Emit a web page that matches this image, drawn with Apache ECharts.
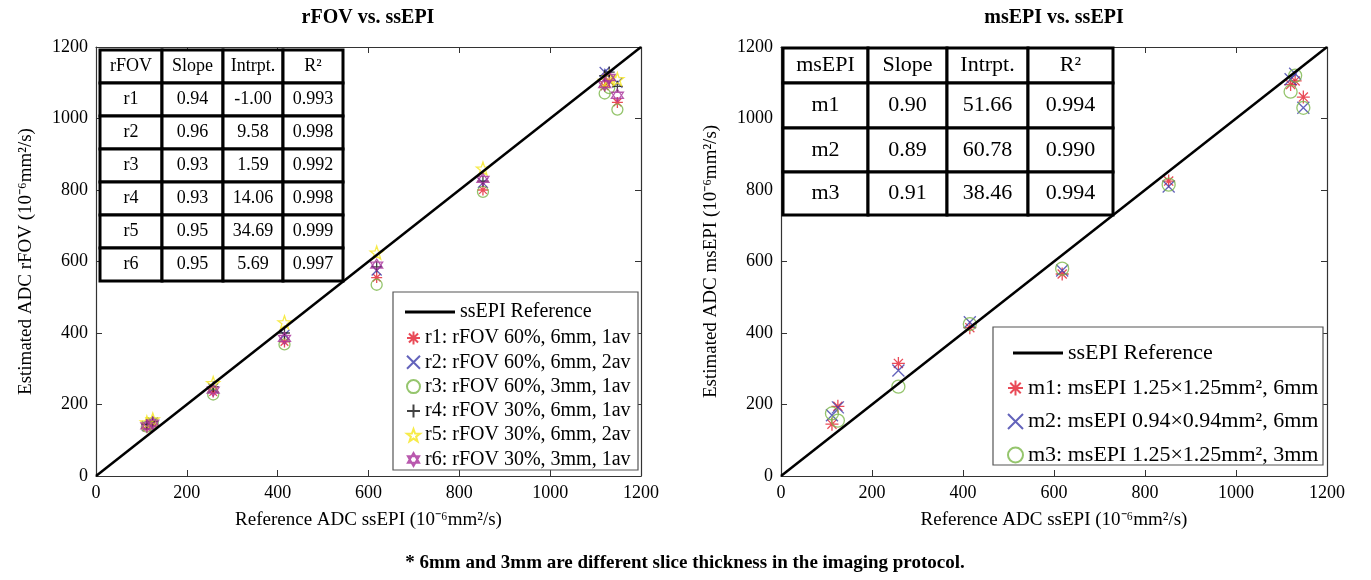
<!DOCTYPE html>
<html>
<head>
<meta charset="utf-8">
<script src="https://cdn.jsdelivr.net/npm/echarts@6/dist/echarts.min.js"></script>
<style>
  html, body { margin: 0; padding: 0; background: #fff; }
  #chart { width: 1371px; height: 580px; }
</style>
</head>
<body>
<div id="chart"></div>
<script>
// ssEPI 参考值（横轴）
var xRef = [112, 125, 258, 415, 618, 852, 1120, 1130, 1148];

// 左图 rFOV
var r1 = [135, 145, 235, 375, 555, 800, 1090, 1105, 1045];
var r2 = [140, 150, 245, 395, 575, 820, 1130, 1125, 1100];
var r3 = [138, 148, 228, 368, 535, 795, 1070, 1085, 1025];
var r4 = [145, 152, 250, 400, 585, 825, 1120, 1130, 1090];
var r5 = [150, 158, 260, 430, 625, 860, 1105, 1115, 1110];
var r6 = [140, 148, 240, 385, 590, 830, 1095, 1115, 1065];

// 右图 msEPI
var m1 = [145, 195, 315, 415, 565, 825, 1095, 1105, 1060];
var m2 = [170, 192, 295, 430, 575, 810, 1110, 1125, 1030];
var m3 = [175, 155, 250, 425, 580, 815, 1075, 1120, 1030];

// 参考线
var refLine = [[0, 0], [1200, 1200]];

var rNames = ['r1: rFOV 60%, 6mm, 1av', 'r2: rFOV 60%, 6mm, 2av', 'r3: rFOV 60%, 3mm, 1av',
  'r4: rFOV 30%, 6mm, 1av', 'r5: rFOV 30%, 6mm, 2av', 'r6: rFOV 30%, 3mm, 1av'];
var mNames = ['m1: msEPI 1.25×1.25mm², 6mm', 'm2: msEPI 0.94×0.94mm², 6mm', 'm3: msEPI 1.25×1.25mm², 3mm'];

// 表格
var rfovHead = ['rFOV', 'Slope', 'Intrpt.', 'R²'];
var rfovRows = [
  ['r1', '0.94', '-1.00', '0.993'],
  ['r2', '0.96', '9.58', '0.998'],
  ['r3', '0.93', '1.59', '0.992'],
  ['r4', '0.93', '14.06', '0.998'],
  ['r5', '0.95', '34.69', '0.999'],
  ['r6', '0.95', '5.69', '0.997']
];
var msHead = ['msEPI', 'Slope', 'Intrpt.', 'R²'];
var msRows = [
  ['m1', '0.90', '51.66', '0.994'],
  ['m2', '0.89', '60.78', '0.990'],
  ['m3', '0.91', '38.46', '0.994']
];

var FONT = 'Liberation Serif';
var unit = ' (10⁻⁶mm²/s)';

// 标记形状
function starPath() {
  var s = 'path://';
  for (var i = 0; i < 10; i++) {
    var r = i % 2 === 0 ? 10 : 4;
    var a = -Math.PI / 2 + i * Math.PI / 5;
    s += (i === 0 ? 'M' : 'L') + (10 + r * Math.cos(a)).toFixed(2) + ',' + (10 + r * Math.sin(a)).toFixed(2);
  }
  return s + 'Z';
}
var SYM_AST = 'path://M10,0L10,20M0,10L20,10M3,3L17,17M3,17L17,3';
var SYM_X = 'path://M0,0L20,20M0,20L20,0';
var SYM_PLUS = 'path://M10,0L10,20M0,10L20,10';
var SYM_STAR = starPath();
var SYM_HEX = 'path://M10,0L18.66,15L1.34,15ZM10,20L1.34,5L18.66,5Z';

var RED = '#e41e2e', BLUE = '#3c3caa', GREEN = '#7ab648', BLACK = '#111', YELLOW = '#f5e61c', PURPLE = '#a8309a';

function pts(ys) {
  return xRef.map(function (x, i) { return [x, ys[i]]; });
}

function scatter(name, gi, ys, sym, color, size) {
  return {
    name: name,
    type: 'scatter',
    xAxisIndex: gi * 2,
    yAxisIndex: gi * 2,
    symbol: sym,
    symbolSize: size,
    itemStyle: { color: 'rgba(0,0,0,0)', borderColor: color, borderWidth: 1.3 },
    emphasis: { disabled: true },
    data: pts(ys)
  };
}

function refSeries(gi) {
  return {
    name: 'ssEPI Reference',
    type: 'line',
    xAxisIndex: gi * 2,
    yAxisIndex: gi * 2,
    symbol: 'none',
    itemStyle: { color: '#000' },
    lineStyle: { color: '#000', width: 2.5 },
    data: refLine
  };
}

var tickFmt = function (v) { return String(v); };

function mainX(gi, name) {
  return {
    gridIndex: gi, type: 'value', min: 0, max: 1200, interval: 200,
    axisLine: { show: true, onZero: false, lineStyle: { color: '#333', width: 1.2 } },
    axisTick: { inside: true, length: 6, lineStyle: { color: '#333' } },
    axisLabel: { color: '#000', fontSize: 18, fontFamily: FONT, margin: 8, formatter: tickFmt },
    splitLine: { show: false },
    name: name, nameLocation: 'middle', nameGap: 35,
    nameTextStyle: { color: '#000', fontSize: 19, fontFamily: FONT }
  };
}
function topX(gi) {
  return {
    gridIndex: gi, type: 'value', min: 0, max: 1200, interval: 200, position: 'top',
    axisLine: { show: true, onZero: false, lineStyle: { color: '#333', width: 1.2 } },
    axisTick: { inside: true, length: 6, lineStyle: { color: '#333' } },
    axisLabel: { show: false }, splitLine: { show: false }
  };
}
function mainY(gi, name) {
  return {
    gridIndex: gi, type: 'value', min: 0, max: 1200, interval: 200,
    axisLine: { show: true, onZero: false, lineStyle: { color: '#333', width: 1.2 } },
    axisTick: { inside: true, length: 6, lineStyle: { color: '#333' } },
    axisLabel: { color: '#000', fontSize: 18, fontFamily: FONT, margin: 8, formatter: tickFmt },
    splitLine: { show: false },
    name: name, nameLocation: 'middle', nameGap: 60,
    nameTextStyle: { color: '#000', fontSize: 19, fontFamily: FONT }
  };
}
function rightY(gi) {
  return {
    gridIndex: gi, type: 'value', min: 0, max: 1200, interval: 200, position: 'right',
    axisLine: { show: true, onZero: false, lineStyle: { color: '#333', width: 1.2 } },
    axisTick: { inside: true, length: 6, lineStyle: { color: '#333' } },
    axisLabel: { show: false }, splitLine: { show: false }
  };
}

// 表格 graphic
function table(head, rows, cols, rowsY, fontSize) {
  var els = [];
  var all = [head].concat(rows);
  all.forEach(function (row, ri) {
    row.forEach(function (txt, ci) {
      var x0 = cols[ci], x1 = cols[ci + 1], y0 = rowsY[ri], y1 = rowsY[ri + 1];
      els.push({
        type: 'rect', z: 20,
        shape: { x: x0, y: y0, width: x1 - x0, height: y1 - y0 },
        style: { fill: '#fff', stroke: '#000', lineWidth: 3 }
      });
      els.push({
        type: 'text', z: 21,
        x: (x0 + x1) / 2, y: (y0 + y1) / 2,
        style: { text: txt, align: 'center', verticalAlign: 'middle', fill: '#000',
          font: fontSize + 'px "' + FONT + '"' }
      });
    });
  });
  return els;
}

function legendBox(x, y, w, h) {
  return {
    type: 'rect', z: 15,
    shape: { x: x, y: y, width: w, height: h },
    style: { fill: '#fff', stroke: '#555', lineWidth: 1.2 }
  };
}

var legText = function (size) {
  return { fontFamily: FONT, fontSize: size, color: '#000', lineHeight: size };
};
var refLegendItem = { name: 'ssEPI Reference', icon: 'rect', itemStyle: { color: '#000' } };

var chart = echarts.init(document.getElementById('chart'));

var graphics = [
  { type: 'text', x: 368, y: 18, z: 30,
    style: { text: 'rFOV vs. ssEPI', align: 'center', verticalAlign: 'middle', fill: '#000', font: 'bold 20px "' + FONT + '"' } },
  { type: 'text', x: 1054, y: 18, z: 30,
    style: { text: 'msEPI vs. ssEPI', align: 'center', verticalAlign: 'middle', fill: '#000', font: 'bold 20px "' + FONT + '"' } },
  { type: 'text', x: 685, y: 563, z: 30,
    style: { text: '* 6mm and 3mm are different slice thickness in the imaging protocol.', align: 'center',
      verticalAlign: 'middle', fill: '#000', font: 'bold 19px "' + FONT + '"' } },
  legendBox(393, 292, 245, 178),
  legendBox(993, 327, 330, 138)
].concat(
  table(rfovHead, rfovRows, [100, 162, 223, 283, 343], [50, 83, 116, 149, 182, 215, 248, 281], 18),
  table(msHead, msRows, [783, 868, 947, 1028, 1113], [48, 83, 128, 172, 215], 22)
);

var option = {
  animation: false,
  backgroundColor: '#fff',
  grid: [
    { left: 96, right: 730, top: 47, bottom: 104 },
    { left: 781, right: 44, top: 47, bottom: 104 }
  ],
  xAxis: [
    mainX(0, 'Reference ADC ssEPI' + unit), topX(0),
    mainX(1, 'Reference ADC ssEPI' + unit), topX(1)
  ],
  yAxis: [
    mainY(0, 'Estimated ADC rFOV' + unit), rightY(0),
    mainY(1, 'Estimated ADC msEPI' + unit), rightY(1)
  ],
  legend: [
    { data: [refLegendItem], orient: 'vertical', left: 400, top: 297, itemWidth: 50, itemHeight: 3,
      selectedMode: false, z: 25, textStyle: legText(20) },
    { data: rNames, orient: 'vertical', left: 401, top: 323, itemWidth: 13, itemHeight: 13, itemGap: 4.3,
      selectedMode: false, z: 25, textStyle: legText(20) },
    { data: [refLegendItem], orient: 'vertical', left: 1008, top: 337, itemWidth: 50, itemHeight: 3,
      selectedMode: false, z: 25, textStyle: legText(22) },
    { data: mNames, orient: 'vertical', left: 1002, top: 372, itemWidth: 15, itemHeight: 15, itemGap: 11.5,
      selectedMode: false, z: 25, textStyle: legText(22) }
  ],
  graphic: graphics,
  series: [
    refSeries(0),
    scatter(rNames[0], 0, r1, SYM_AST, RED, 11),
    scatter(rNames[1], 0, r2, SYM_X, BLUE, 10),
    scatter(rNames[2], 0, r3, 'circle', GREEN, 11),
    scatter(rNames[3], 0, r4, SYM_PLUS, BLACK, 11),
    scatter(rNames[4], 0, r5, SYM_STAR, YELLOW, 13),
    scatter(rNames[5], 0, r6, SYM_HEX, PURPLE, 12),
    refSeries(1),
    scatter(mNames[0], 1, m1, SYM_AST, RED, 13),
    scatter(mNames[1], 1, m2, SYM_X, BLUE, 12),
    scatter(mNames[2], 1, m3, 'circle', GREEN, 13)
  ]
};

chart.setOption(option);
</script>
</body>
</html>
